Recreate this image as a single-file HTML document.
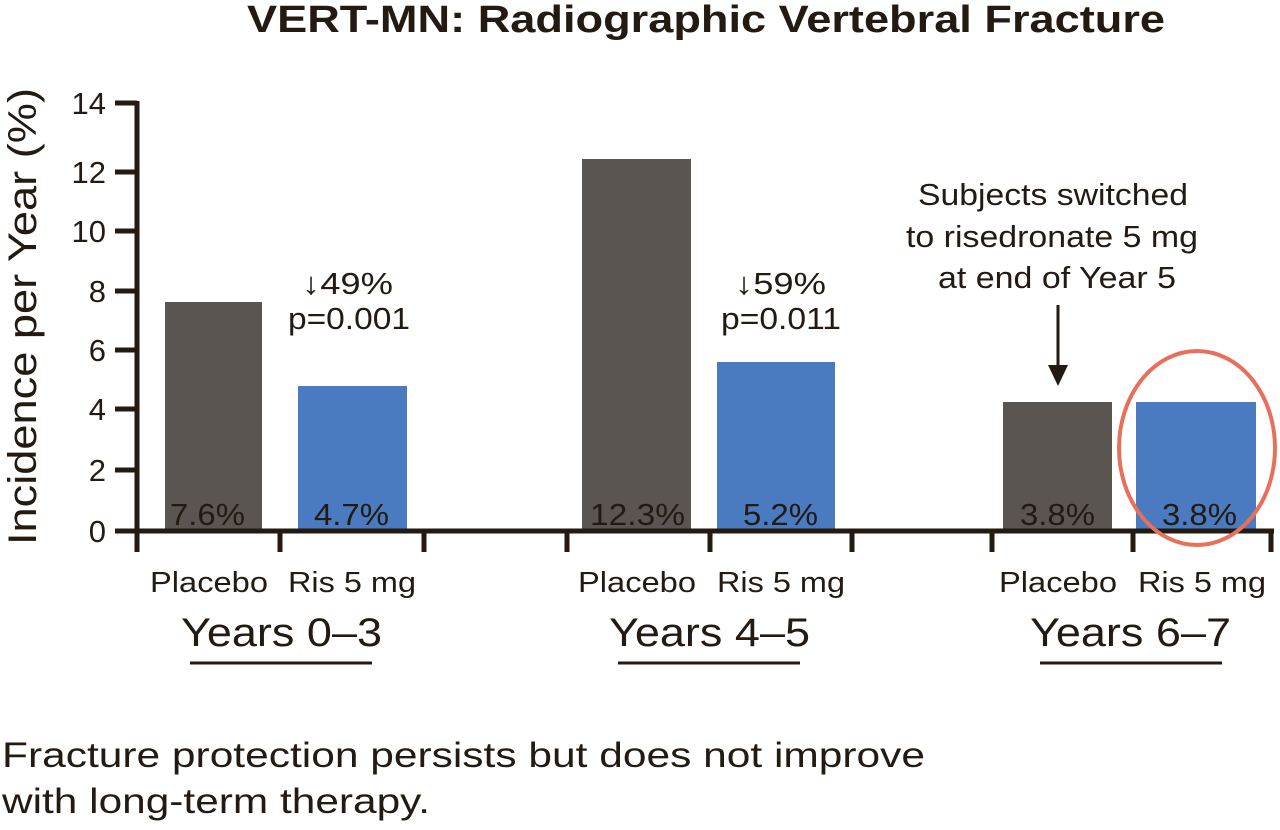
<!DOCTYPE html>
<html><head><style>
body{margin:0;background:#fff;}
svg text{font-family:"Liberation Sans",sans-serif;fill:#231a12;}
</style></head><body>
<svg width="1280" height="825" viewBox="0 0 1280 825">
<text x="247" y="32" font-size="38" font-weight="bold" textLength="918" lengthAdjust="spacingAndGlyphs">VERT-MN: Radiographic Vertebral Fracture</text>
<text transform="translate(36,545) rotate(-90)" font-size="40" textLength="457" lengthAdjust="spacingAndGlyphs">Incidence per Year (%)</text>
<g font-size="31" text-anchor="end">
<text x="106" y="542">0</text><text x="106" y="481">2</text><text x="106" y="420">4</text><text x="106" y="361">6</text><text x="106" y="302">8</text><text x="106" y="242">10</text><text x="106" y="183">12</text><text x="106" y="114">14</text>
</g>
<g fill="#5a5550">
<rect x="165" y="302" width="97" height="229"/>
<rect x="582" y="159" width="109" height="372"/>
<rect x="1003" y="402" width="109" height="129"/>
</g>
<g fill="#4a7abf">
<rect x="298" y="386" width="109" height="145"/>
<rect x="717" y="362" width="118" height="169"/>
<rect x="1136" y="402" width="120" height="129"/>
</g>
<g stroke="#231a12" stroke-width="5">
<line x1="137" y1="101" x2="137" y2="552"/>
<line x1="115" y1="531" x2="1274" y2="531"/>
<line x1="115" y1="103" x2="137" y2="103"/>
<line x1="115" y1="172" x2="137" y2="172"/>
<line x1="115" y1="231" x2="137" y2="231"/>
<line x1="115" y1="291" x2="137" y2="291"/>
<line x1="115" y1="350" x2="137" y2="350"/>
<line x1="115" y1="409" x2="137" y2="409"/>
<line x1="115" y1="470" x2="137" y2="470"/>
<line x1="280" y1="531" x2="280" y2="552"/>
<line x1="424" y1="531" x2="424" y2="552"/>
<line x1="567" y1="531" x2="567" y2="552"/>
<line x1="710" y1="531" x2="710" y2="552"/>
<line x1="852" y1="531" x2="852" y2="552"/>
<line x1="992" y1="531" x2="992" y2="552"/>
<line x1="1133" y1="531" x2="1133" y2="552"/>
<line x1="1271" y1="531" x2="1271" y2="552"/>
</g>
<g font-size="31">
<text x="170" y="525" textLength="75" lengthAdjust="spacingAndGlyphs">7.6%</text>
<text x="314" y="525" textLength="75" lengthAdjust="spacingAndGlyphs">4.7%</text>
<text x="590" y="525" textLength="95" lengthAdjust="spacingAndGlyphs">12.3%</text>
<text x="743" y="525" textLength="75" lengthAdjust="spacingAndGlyphs">5.2%</text>
<text x="1020" y="525" textLength="75" lengthAdjust="spacingAndGlyphs">3.8%</text>
<text x="1162" y="525" textLength="75" lengthAdjust="spacingAndGlyphs">3.8%</text>
</g>
<g font-size="31">
<text x="302" y="294" textLength="91" lengthAdjust="spacingAndGlyphs">↓49%</text>
<text x="288" y="329" textLength="122" lengthAdjust="spacingAndGlyphs">p=0.001</text>
<text x="735" y="294" textLength="91" lengthAdjust="spacingAndGlyphs">↓59%</text>
<text x="721" y="329" textLength="120" lengthAdjust="spacingAndGlyphs">p=0.011</text>
<text x="918" y="205" textLength="270" lengthAdjust="spacingAndGlyphs">Subjects switched</text>
<text x="906" y="247" textLength="292" lengthAdjust="spacingAndGlyphs">to risedronate 5 mg</text>
<text x="938" y="288" textLength="238" lengthAdjust="spacingAndGlyphs">at end of Year 5</text>
</g>
<line x1="1058" y1="305" x2="1058" y2="370" stroke="#231a12" stroke-width="3"/>
<polygon points="1048,365 1068,365 1058,386" fill="#231a12"/>
<ellipse cx="1197" cy="448" rx="78" ry="97" fill="none" stroke="#e8705a" stroke-width="4"/>
<g font-size="29">
<text x="150" y="592" textLength="118" lengthAdjust="spacingAndGlyphs">Placebo</text>
<text x="288" y="592" textLength="128" lengthAdjust="spacingAndGlyphs">Ris 5 mg</text>
<text x="578" y="592" textLength="118" lengthAdjust="spacingAndGlyphs">Placebo</text>
<text x="717" y="592" textLength="128" lengthAdjust="spacingAndGlyphs">Ris 5 mg</text>
<text x="999" y="592" textLength="118" lengthAdjust="spacingAndGlyphs">Placebo</text>
<text x="1138" y="592" textLength="128" lengthAdjust="spacingAndGlyphs">Ris 5 mg</text>
</g>
<g font-size="40">
<text x="181" y="646" textLength="201" lengthAdjust="spacingAndGlyphs">Years 0–3</text>
<text x="609" y="646" textLength="201" lengthAdjust="spacingAndGlyphs">Years 4–5</text>
<text x="1030" y="646" textLength="201" lengthAdjust="spacingAndGlyphs">Years 6–7</text>
</g>
<g stroke="#231a12" stroke-width="3">
<line x1="190" y1="663" x2="372" y2="663"/>
<line x1="618" y1="663" x2="800" y2="663"/>
<line x1="1040" y1="663" x2="1222" y2="663"/>
</g>
<text x="2" y="767" font-size="35" textLength="923" lengthAdjust="spacingAndGlyphs">Fracture protection persists but does not improve</text>
<text x="2" y="813" font-size="35" textLength="428" lengthAdjust="spacingAndGlyphs">with long-term therapy.</text>
</svg>
</body></html>
